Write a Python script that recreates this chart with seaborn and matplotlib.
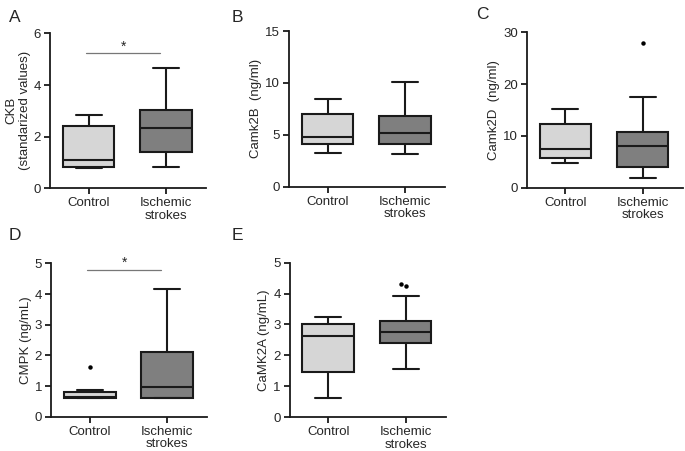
import pandas as pd
import seaborn as sns
import matplotlib.pyplot as plt

# Groups and box statistics: (min, Q1, median, Q3, max)
groups = ["Control", "Ischemic\nstrokes"]

ckb_control = [0.77, 0.84, 1.10, 2.41, 2.84]
ckb_stroke = [0.84, 1.42, 2.33, 3.03, 4.65]

camk2b_control = [3.22, 4.11, 4.82, 7.00, 8.48]
camk2b_stroke = [3.15, 4.08, 5.14, 6.81, 10.09]

camk2d_control = [4.83, 5.73, 7.47, 12.30, 15.20]
camk2d_stroke = [1.81, 4.05, 8.11, 10.80, 17.60]
camk2d_outliers_stroke = [28.0]

cmpk_control = [0.62, 0.62, 0.64, 0.80, 0.86]
cmpk_stroke = [0.62, 0.62, 0.98, 2.12, 4.16]
cmpk_outliers_control = [1.63]

camk2a_control = [0.63, 1.47, 2.63, 3.03, 3.23]
camk2a_stroke = [1.56, 2.39, 2.77, 3.11, 3.92]
camk2a_outliers_stroke = [4.30, 4.25]

# significance bars (y value)
sig_a = 5.25
sig_d = 4.8

sns.set_style("ticks")
plt.rcParams["font.family"] = ["Liberation Sans", "DejaVu Sans"]

colors = ["#d6d6d6", "#7f7f7f"]


def make_df(control, stroke):
    return pd.DataFrame({
        "group": [groups[0]] * len(control) + [groups[1]] * len(stroke),
        "value": control + stroke,
    })


def panel(ax, control, stroke, ylabel, yticks, outliers=None, sig=None):
    df = make_df(control, stroke)
    sns.boxplot(data=df, x="group", y="value", hue="group", order=groups,
                hue_order=groups, palette=colors, whis=(0, 100),
                showfliers=False, width=0.67, linewidth=1.5,
                linecolor="#1a1a1a", legend=False, ax=ax)
    if outliers:
        odf = pd.DataFrame({"group": [g for g, v in outliers for _ in v],
                            "value": [x for g, v in outliers for x in v]})
        sns.swarmplot(data=odf, x="group", y="value", order=groups,
                      color="black", size=3.2, ax=ax)
    if sig is not None:
        ax.plot([-0.03, 0.93], [sig, sig], color="#777777", lw=0.9)
        ax.annotate("*", (0.45, sig), xytext=(0, 4.5), textcoords="offset points",
                    ha="center", va="center", fontsize=10)
    ax.set_xlim(-0.5, 1.52)
    ax.set_ylim(yticks[0], yticks[-1])
    ax.set_yticks(yticks)
    ax.set_xlabel("")
    ax.set_ylabel(ylabel, fontsize=9.5, labelpad=2)
    ax.tick_params(labelsize=9.5, width=1.3, length=4, color="#1a1a1a", pad=2.5)
    for lab in ax.get_xticklabels():
        lab.set_linespacing(1.05)
    for s in ["left", "bottom"]:
        ax.spines[s].set_linewidth(1.3)
        ax.spines[s].set_color("#1a1a1a")
    sns.despine(ax=ax)


fig = plt.figure(figsize=(6.85, 4.51), dpi=100)
w = 0.2277
axA = fig.add_axes([0.073, 0.5825, w, 0.3435])
axB = fig.add_axes([0.4219, 0.586, w, 0.345])
axC = fig.add_axes([0.769, 0.584, w, 0.344])
axD = fig.add_axes([0.0745, 0.076, w, 0.340])
axE = fig.add_axes([0.423, 0.0747, w, 0.343])

panel(axA, ckb_control, ckb_stroke, "CKB\n(standarized values)", [0, 2, 4, 6],
      sig=sig_a)
panel(axB, camk2b_control, camk2b_stroke, "Camk2B  (ng/ml)", [0, 5, 10, 15])
panel(axC, camk2d_control, camk2d_stroke, "Camk2D  (ng/ml)", [0, 10, 20, 30],
      outliers=[(groups[1], camk2d_outliers_stroke)])
panel(axD, cmpk_control, cmpk_stroke, "CMPK (ng/mL)", [0, 1, 2, 3, 4, 5],
      outliers=[(groups[0], cmpk_outliers_control)], sig=sig_d)
panel(axE, camk2a_control, camk2a_stroke, "CaMK2A (ng/mL)", [0, 1, 2, 3, 4, 5],
      outliers=[(groups[1], camk2a_outliers_stroke)])

# panel letters
for letter, x, y in [("A", 0.013, 0.962), ("B", 0.338, 0.962), ("C", 0.695, 0.968),
                     ("D", 0.013, 0.478), ("E", 0.338, 0.478)]:
    fig.text(x, y, letter, fontsize=12.5, ha="left", va="center")

fig.savefig("out.png", dpi=100)
